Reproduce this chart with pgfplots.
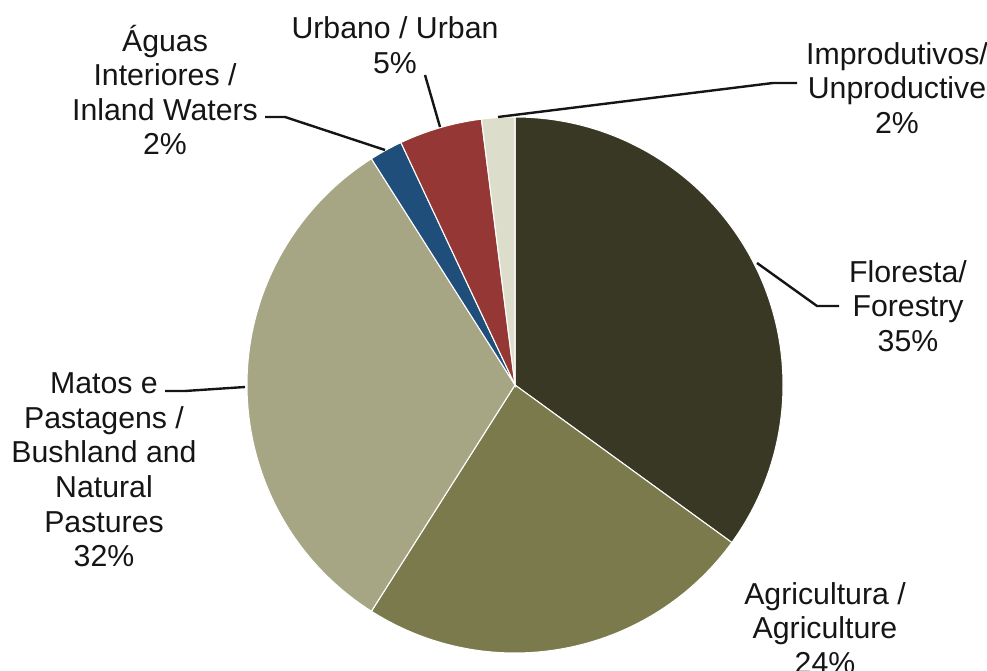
\documentclass[border=0pt]{standalone}
\usepackage{pgfplots}
\pgfplotsset{compat=1.18}
\usepackage{fontspec}
\setmainfont{Liberation Sans}
\definecolor{cFor}{HTML}{393825}
\definecolor{cAgr}{HTML}{7A7A4D}
\definecolor{cMat}{HTML}{A6A685}
\definecolor{cAgu}{HTML}{1F4E7A}
\definecolor{cUrb}{HTML}{953735}
\definecolor{cImp}{HTML}{DDDDCB}
\definecolor{txt}{HTML}{151515}
% #1 cumulative start (%), #2 share (%), #3 colour
\newcommand\pieslice[3]{%
  \fill[#3, draw=white, line width=0.8pt] (axis cs:515,285) -- ++({90-3.6*(#1)}:201pt)
    arc[start angle={90-3.6*(#1)}, end angle={90-3.6*(#1+#2)}, radius=201pt] -- cycle;}
\begin{document}
\begin{tikzpicture}
\begin{axis}[
  anchor=south west, at={(0,0)},
  scale only axis, width=740.25pt, height=502.5pt,
  xmin=0, xmax=987, ymin=0, ymax=670,
  hide axis, clip=false,
]
% shares: Floresta 35, Agricultura 24, Matos 32, Aguas 2, Urbano 5, Improdutivos 2
\pieslice{0}{35}{cFor}
\pieslice{35}{24}{cAgr}
\pieslice{59}{32}{cMat}
\pieslice{91}{2}{cAgu}
\pieslice{93}{5}{cUrb}
\pieslice{98}{2}{cImp}
% leader lines
\draw[line width=1.8pt, txt] (axis cs:265,553) -- (axis cs:285,553) -- (axis cs:385,520);
\draw[line width=1.8pt, txt] (axis cs:425,595) -- (axis cs:440,543);
\draw[line width=1.8pt, txt] (axis cs:797,587) -- (axis cs:773,587) -- (axis cs:498,553);
\draw[line width=1.8pt, txt] (axis cs:839,364) -- (axis cs:817,364) -- (axis cs:757,407);
\draw[line width=1.8pt, txt] (axis cs:165,279) -- (axis cs:185,279) -- (axis cs:245,283);
% labels
\begin{scope}[every node/.style={align=center, text=txt, font=\fontsize{22.7}{25.9}\selectfont, inner sep=0pt}]
\node at (axis cs:165,580) {Águas\\Interiores /\\Inland Waters\\2\%};
\node at (axis cs:395,625) {Urbano / Urban\\5\%};
\node at (axis cs:897,582) {Improdutivos/\\Unproductive\\2\%};
\node at (axis cs:908,364) {Floresta/\\Forestry\\35\%};
\node at (axis cs:104,200) {Matos e\\Pastagens /\\Bushland and\\Natural\\Pastures\\32\%};
\node at (axis cs:825,42) {Agricultura /\\Agriculture\\24\%};
\end{scope}
\end{axis}
\pgfresetboundingbox
\path[use as bounding box] (0,0) rectangle (740.25pt,502.5pt);
\end{tikzpicture}
\end{document}
